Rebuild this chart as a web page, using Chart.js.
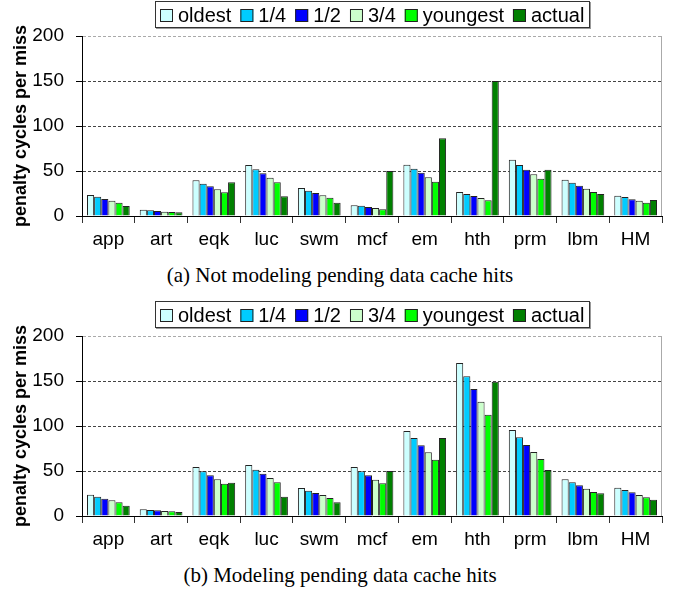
<!DOCTYPE html>
<html>
<head>
<meta charset="utf-8">
<script src="https://cdn.jsdelivr.net/npm/chart.js@4.4.1/dist/chart.umd.min.js"></script>
<style>
    body { margin: 0; background: #fff; width: 676px; height: 592px; position: relative; overflow: hidden; }
    .pannello { position: absolute; left: 0; width: 676px; height: 250px; }
    .didascalia { position: absolute; left: 0; width: 680px; text-align: center; color: #000;
                  font-family: "Liberation Serif", "Times New Roman", serif; font-size: 21px; line-height: 24px; }
</style>
</head>
<body>
<div class="pannello" style="top:0px"><canvas id="graficoA"></canvas></div>
<div class="didascalia" style="top:263px">(a) Not modeling pending data cache hits</div>
<div class="pannello" style="top:300px"><canvas id="graficoB"></canvas></div>
<div class="didascalia" style="top:563px">(b) Modeling pending data cache hits</div>
<script>
const categorie = ['app', 'art', 'eqk', 'luc', 'swm', 'mcf', 'em', 'hth', 'prm', 'lbm', 'HM'];
const etichetteSerie = ['oldest', '1/4', '1/2', '3/4', 'youngest', 'actual'];
const coloriSerie = ['#CCFFFF', '#00CCFF', '#0000FF', '#CCFFCC', '#00FF00', '#008000'];
const ticksY = [0, 50, 100, 150, 200];

// (a) senza modellare i pending hit
const oldestA   = [23.3, 7.0, 39.6, 56.7, 31.1, 11.9, 57.0, 26.7, 62.6, 40.4, 22.6];
const quartoA   = [21.5, 6.3, 35.9, 51.9, 28.1, 11.5, 52.6, 24.4, 56.7, 37.0, 21.1];
const mezzoA    = [18.9, 5.6, 33.0, 47.4, 25.6, 10.0, 48.1, 22.2, 51.5, 33.7, 18.5];
const treQuartiA = [17.0, 4.8, 29.6, 42.6, 23.0, 9.0, 43.0, 20.0, 46.3, 30.4, 17.0];
const youngestA = [14.8, 4.4, 26.3, 37.4, 20.4, 7.4, 38.1, 17.4, 41.5, 26.7, 14.8];
const actualA   = [11.1, 4.1, 37.4, 21.9, 14.8, 50.0, 86.3, 150.0, 51.5, 24.4, 17.8];

// (b) modellando i pending hit
const oldestB   = [23.7, 7.4, 54.4, 56.7, 31.1, 54.4, 94.4, 170.0, 95.6, 40.7, 31.5];
const quartoB   = [21.5, 6.7, 49.6, 51.5, 28.1, 49.6, 86.7, 155.2, 87.4, 37.4, 28.9];
const mezzoB    = [19.3, 6.3, 45.2, 47.0, 25.6, 45.2, 78.5, 141.1, 78.9, 34.1, 26.3];
const treQuartiB = [17.4, 5.6, 40.7, 42.2, 23.3, 40.4, 70.7, 127.0, 71.1, 30.4, 23.3];
const youngestB = [15.2, 5.2, 35.9, 37.4, 20.0, 36.3, 62.6, 112.6, 63.3, 26.7, 20.7];
const actualB   = [11.5, 4.4, 37.0, 21.5, 15.2, 50.0, 86.7, 149.3, 51.1, 25.2, 18.1];

Chart.defaults.font.family = '"Liberation Sans", Arial, sans-serif';
Chart.defaults.color = '#000';

// legenda con riquadro sopra l'area del grafico + bordo destro grigio
const legendaRiquadro = {
    id: 'legendaRiquadro',
    afterDraw(chart) {
        const ctx = chart.ctx;
        const area = chart.chartArea;
        const quad = 13, gapTesto = 5, gapVoce = 9, margine = 5;
        ctx.save();
        ctx.font = '20px "Liberation Sans", Arial, sans-serif';
        const voci = chart.data.datasets.map(ds => ({
            testo: ds.label, colore: ds.backgroundColor, w: ctx.measureText(ds.label).width
        }));
        const larghezza = margine * 2 + voci.reduce((s, v) => s + quad + gapTesto + v.w, 0) + gapVoce * (voci.length - 1);
        const x0 = Math.round((area.left + area.right) / 2 - larghezza / 2);

        ctx.strokeStyle = '#999';
        ctx.lineWidth = 1;
        ctx.strokeRect(x0 + 1.5, 2.5, Math.round(larghezza), 26);
        ctx.fillStyle = '#fff';
        ctx.fillRect(x0, 1, Math.round(larghezza), 27);
        ctx.strokeStyle = '#333';
        ctx.strokeRect(x0 + 0.5, 1.5, Math.round(larghezza), 26);

        let x = x0 + margine;
        voci.forEach(v => {
            ctx.fillStyle = v.colore;
            ctx.fillRect(x, 9, quad, quad);
            ctx.strokeStyle = '#222';
            ctx.strokeRect(x + 0.5, 9.5, quad - 1, quad - 1);
            ctx.fillStyle = '#000';
            ctx.textBaseline = 'alphabetic';
            ctx.fillText(v.testo, x + quad + gapTesto, 22);
            x += quad + gapTesto + v.w + gapVoce;
        });

        const xd = Math.round(area.right) - 0.5;
        ctx.strokeStyle = '#aaa';
        ctx.beginPath();
        ctx.moveTo(xd, area.top);
        ctx.lineTo(xd, area.bottom);
        ctx.stroke();
        ctx.restore();
    }
};

function creaGrafico(id, serie) {
    const ctx = document.getElementById(id).getContext('2d');
    return new Chart(ctx, {
        type: 'bar',
        data: {
            labels: categorie,
            datasets: serie.map((dati, i) => ({
                label: etichetteSerie[i],
                data: dati,
                backgroundColor: coloriSerie[i],
                borderColor: '#222',
                borderWidth: 1,
                barPercentage: 1.0,
                categoryPercentage: 0.81
            }))
        },
        options: {
            responsive: true,
            maintainAspectRatio: false,
            animation: false,
            devicePixelRatio: 1,
            layout: { padding: { top: 36, right: 14, left: 0, bottom: 0 } },
            plugins: {
                legend: { display: false },
                tooltip: { enabled: false }
            },
            scales: {
                x: {
                    afterFit: (scala) => { scala.height = 34; },
                    grid: {
                        offset: true,
                        drawOnChartArea: false,
                        drawTicks: true,
                        tickLength: 7,
                        tickColor: '#333'
                    },
                    border: { color: '#000', width: 1 },
                    ticks: { color: '#000', font: { size: 19 }, padding: 5, maxRotation: 0, autoSkip: false }
                },
                y: {
                    min: ticksY[0],
                    max: ticksY[ticksY.length - 1],
                    afterFit: (scala) => { scala.width = 82; },
                    afterBuildTicks: (scala) => { scala.ticks = ticksY.map(v => ({ value: v })); },
                    grid: {
                        color: (c) => c.tick && c.tick.value === 200 ? '#aaa' : '#444',
                        tickLength: 6,
                        tickColor: '#000'
                    },
                    border: { color: '#000', width: 1, dash: [3, 2] },
                    ticks: { color: '#000', font: { size: 19 }, padding: 12 },
                    title: {
                        display: true,
                        text: 'penalty cycles per miss',
                        color: '#000',
                        font: { size: 18, weight: 'bold' },
                        padding: { top: 10, bottom: 0 }
                    }
                }
            }
        },
        plugins: [legendaRiquadro]
    });
}

const graficoA = creaGrafico('graficoA', [oldestA, quartoA, mezzoA, treQuartiA, youngestA, actualA]);
const graficoB = creaGrafico('graficoB', [oldestB, quartoB, mezzoB, treQuartiB, youngestB, actualB]);
</script>
</body>
</html>
